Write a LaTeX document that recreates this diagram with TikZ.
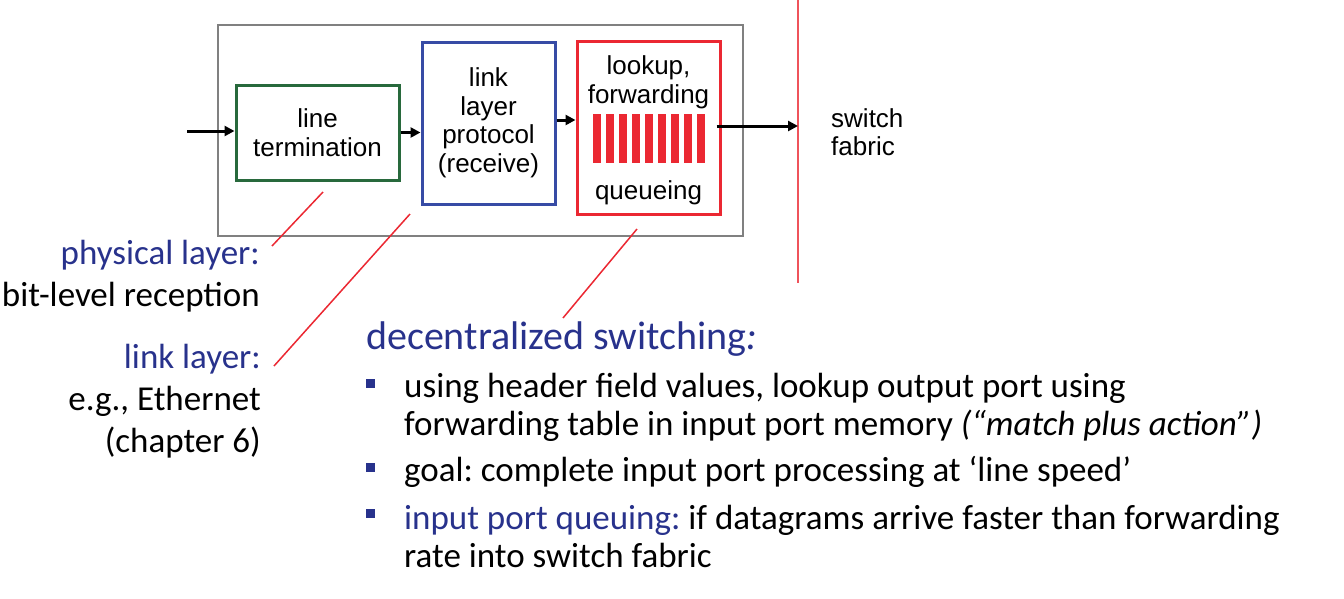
\documentclass[tikz,border=0pt]{standalone}
\usepackage{fontspec}
\setmainfont{Carlito}
\newfontfamily\boxfont{Liberation Sans}
\usetikzlibrary{arrows.meta,positioning}
\frenchspacing
\definecolor{portgreen}{RGB}{40,105,60}
\definecolor{portblue}{RGB}{55,75,165}
\definecolor{portred}{RGB}{235,40,50}
\definecolor{labelblue}{RGB}{40,50,140}
\tikzset{
  unit/.style={draw, rectangle, line width=3pt, inner sep=0pt, align=center, font=\boxfont\fontsize{26}{28.5}\selectfont},
  txt/.style={inner sep=0pt, align=center, font=\boxfont\fontsize{26}{28.5}\selectfont},
  arr/.style={line width=3pt, -{Triangle[length=10pt,width=10pt]}},
  leader/.style={portred, line width=1.5pt},
  side/.style={anchor=east, align=right, inner sep=0pt, font=\fontsize{35}{42}\selectfont},
  body/.style={anchor=west, align=left, inner sep=0pt, font=\fontsize{35}{38}\selectfont},
  bullet/.style={fill=labelblue, minimum size=9pt, inner sep=0pt},
}
\begin{document}
\begin{tikzpicture}[x=1pt, y=-1pt]
    \useasboundingbox (0,0) rectangle (1344,598);

    % input port
    \node[draw=gray, line width=2pt, minimum width=525pt, minimum height=211pt] (port) at (480.5,130.5) {};
    \node[unit, draw=portgreen, minimum width=163pt, minimum height=95pt] (line) at (317.5,132.5) {line\\termination};
    \node[unit, draw=portblue, minimum width=133pt, minimum height=162pt] (link) at (488.5,123) {link\\layer\\protocol\\(receive)};
    \node[unit, draw=portred, minimum width=143pt, minimum height=173pt] (lookup) at (648.5,127.5) {};
    \node[txt, below=16pt of lookup.north] (lookuptxt) {lookup,\\forwarding};
    \node[txt, above=10pt of lookup.south] (queuetxt) {queueing};
    \foreach \i in {0,...,8}
        \fill[portred] (593+\i*13,114) rectangle ++(8,49);

    % switch fabric
    \coordinate (fabtop) at (798,0);
    \coordinate (fabbot) at (798,283);
    \draw[portred!80, line width=1.5pt] (fabtop) -- (fabbot);
    \node[txt, anchor=west, align=left] (fabric) at (831,132) {switch\\fabric};

    \coordinate (in) at (187,131);
    \draw[arr] (in) -- (in -| line.west);
    \draw[arr] (line.east) -- (line.east -| link.west);
    \draw[arr] ([yshift=3pt]link.east) -- ([yshift=3pt]link.east -| lookup.west);
    \draw[arr] ([xshift=-5pt, yshift=1.5pt]lookup.east) -- ([yshift=1.5pt]lookup.east -| fabtop);

    % side labels
    \node[side] (phys) at (260,276) {{\color{labelblue}physical layer:}\\bit-level reception};
    \node[side] (llayer) at (261,401) {{\color{labelblue}link layer:}\\e.g., Ethernet\\(chapter 6)};
    \coordinate (p1) at (272,246);
    \coordinate (p2) at (323,192);
    \coordinate (l1) at (274,366);
    \coordinate (l2) at (410,214);
    \coordinate (d1) at (563,318);
    \coordinate (d2) at (637,229);
    \draw[leader] (p1) -- (p2);
    \draw[leader] (l1) -- (l2);
    \draw[leader] (d1) -- (d2);

    % decentralized switching
    \node[anchor=west, inner sep=0pt, text=labelblue, font=\fontsize{40}{48}\selectfont] (title) at (366,339) {decentralized switching\textit{:}};
    \node[bullet] (b1) at (370.5,383) {};
    \node[bullet] (b2) at (370.5,467) {};
    \node[bullet] (b3) at (370.5,513) {};
    \node[body] (t1) at (404,407) {using header field values, lookup output port using\\forwarding table in input port memory \textit{(“match plus action”)}};
    \node[body] (t2) at (404,472) {goal: complete input port processing at ‘line speed’};
    \node[body] (t3) at (404,536.5) {{\color{labelblue}input port queuing:} if datagrams arrive faster than forwarding\\rate into switch fabric};
\end{tikzpicture}
\end{document}
